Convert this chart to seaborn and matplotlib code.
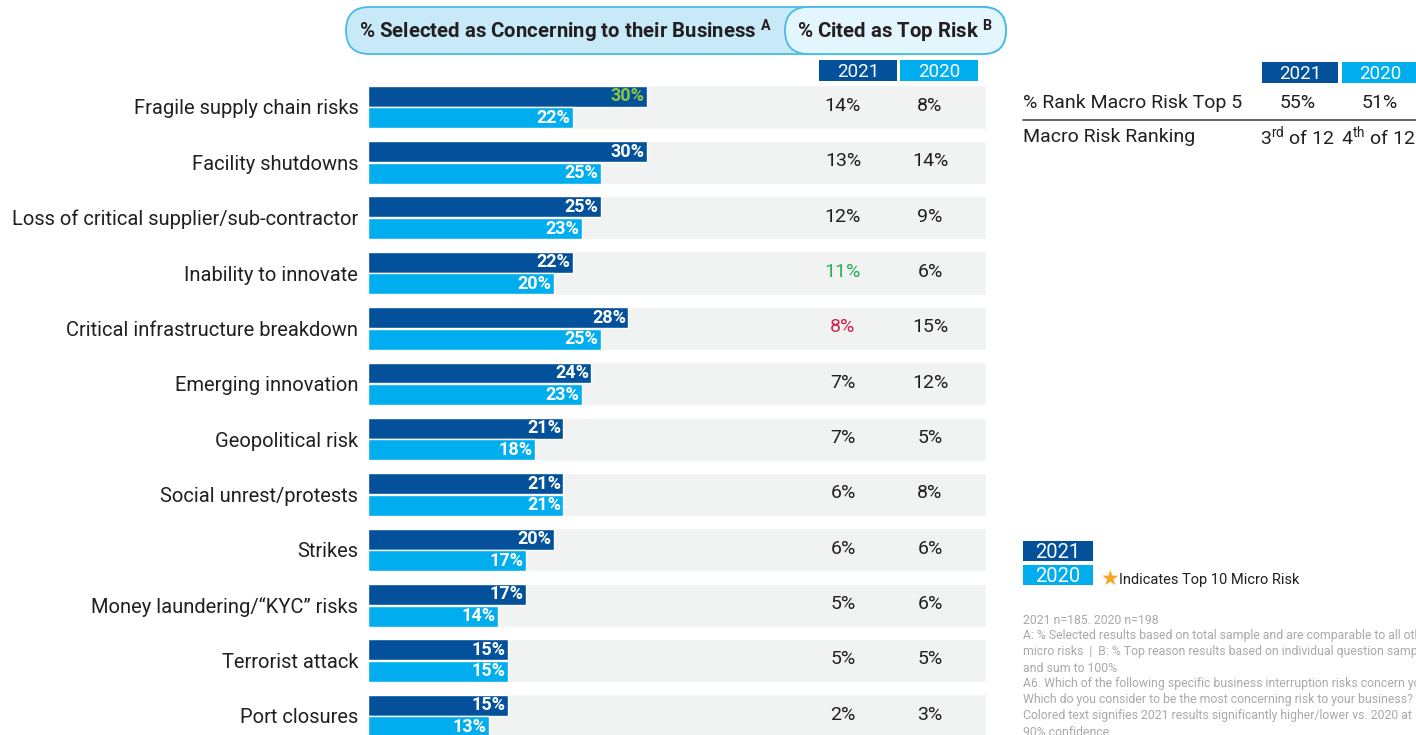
import matplotlib
matplotlib.use("Agg")
import matplotlib.pyplot as plt
from matplotlib.patches import FancyBboxPatch, Rectangle
import seaborn as sns
import pandas as pd
import numpy as np

risks = [
    "Fragile supply chain risks",
    "Facility shutdowns",
    "Loss of critical supplier/sub-contractor",
    "Inability to innovate",
    "Critical infrastructure breakdown",
    "Emerging innovation",
    "Geopolitical risk",
    "Social unrest/protests",
    "Strikes",
    "Money laundering/\u201cKYC\u201d risks",
    "Terrorist attack",
    "Port closures",
]
selected_2021 = [30, 30, 25, 22, 28, 24, 21, 21, 20, 17, 15, 15]
selected_2020 = [22, 25, 23, 20, 25, 23, 18, 21, 17, 14, 15, 13]
top_2021 = [14, 13, 12, 11, 8, 7, 7, 6, 6, 5, 5, 2]
top_2020 = [8, 14, 9, 6, 15, 12, 5, 8, 6, 6, 5, 3]
years = ["2021", "2020"]

macro_rows = ["% Rank Macro Risk Top 5", "Macro Risk Ranking"]
macro_top5 = ["55%", "51%"]
macro_rank = [("3", "rd"), ("4", "th")]

footnotes = [
    "2021 n=185. 2020 n=198",
    "A: % Selected results based on total sample and are comparable to all other",
    "micro risks  |  B: % Top reason results based on individual question sample",
    "and sum to 100%",
    "A6. Which of the following specific business interruption risks concern you?",
    "Which do you consider to be the most concerning risk to your business?",
    "Colored text signifies 2021 results significantly higher/lower vs. 2020 at",
    "90% confidence",
]

DARK = "#02519a"
LIGHT = "#00aeef"
BAND = "#f1f2f2"
INK = "#231f20"
GREEN_HI = "#8dc63f"
GREEN = "#27b153"
RED = "#d2234f"

sns.set_theme(style="white")
plt.rcParams["font.family"] = ["Roboto", "DejaVu Sans"]
plt.rcParams["mathtext.fontset"] = "custom"
plt.rcParams["mathtext.rm"] = "Roboto"

W, H = 1416, 735
fig = plt.figure(figsize=(W / 100, H / 100), dpi=100)

# main bar axes: 9.3 px per percent, rows every 55.36 px
px_per_pct = 9.3
row_px = 55.36
ax_left, ax_right = 368, 986
top_px = 107 - 0.5 * row_px
bot_px = 107 + 11.5 * row_px
ax = fig.add_axes([ax_left / W, 1 - bot_px / H, (ax_right - ax_left) / W, (bot_px - top_px) / H])

df = pd.DataFrame({
    "risk": risks * 2,
    "value": selected_2021 + selected_2020,
    "year": [years[0]] * len(risks) + [years[1]] * len(risks),
})
sns.barplot(data=df, x="value", y="risk", hue="year", hue_order=years,
            palette=[DARK, LIGHT], saturation=1, orient="h", width=0.78, gap=0.03,
            legend=False, ax=ax, zorder=2)
bar_groups = list(ax.containers)
xmax = (ax_right - ax_left) / px_per_pct
ax.barh(np.arange(len(risks)), xmax, height=0.78, color=BAND, zorder=0.5)
ax.set_xlim(0, xmax)
ax.set_ylim(len(risks) - 0.5, -0.5)
ax.set_xlabel("")
ax.set_ylabel("")
ax.set_xticks([])
ax.tick_params(axis="y", length=0, pad=7, labelsize=14.5, labelcolor=INK)
for s in ax.spines.values():
    s.set_visible(False)
ax.patch.set_alpha(0)

label_colors = {(0, 0): GREEN_HI}
for h, cont in enumerate(bar_groups):
    for i, bar in enumerate(cont):
        ax.text(bar.get_width() - 0.25, bar.get_y() + bar.get_height() / 2,
                f"{int(round(bar.get_width()))}%", ha="right", va="center",
                color=label_colors.get((h, i), "white"), fontsize=13,
                fontweight="bold", zorder=3)

top_colors = {3: GREEN, 4: RED}
x21 = (843 - ax_left) / px_per_pct
x20 = (930 - ax_left) / px_per_pct
for i in range(len(risks)):
    ax.text(x21, i - 0.02, f"{top_2021[i]}%", ha="center", va="center",
            fontsize=14, color=top_colors.get(i, INK))
    ax.text(x20, i - 0.02, f"{top_2020[i]}%", ha="center", va="center",
            fontsize=14, color=INK)

# overlay axes in pixel units for headers, side table and notes
deco = fig.add_axes([0, 0, 1, 1])
deco.set_xlim(0, W)
deco.set_ylim(H, 0)
deco.axis("off")
deco.patch.set_alpha(0)

deco.add_patch(FancyBboxPatch((346, 7), 660, 47,
                              boxstyle="round,pad=0,rounding_size=23.5",
                              fc="#c7e9f8", ec="#47bce9", lw=1.3))
deco.add_patch(FancyBboxPatch((785, 7), 221, 47,
                              boxstyle="round,pad=0,rounding_size=23.5",
                              fc="#e3f5fd", ec="#47bce9", lw=1.3))
deco.text(566, 31, r"% Selected as Concerning to their Business $^{\mathregular{A}}$",
          ha="center", va="center", fontsize=14.7, fontweight="bold", color=INK)
deco.text(895, 31, r"% Cited as Top Risk $^{\mathregular{B}}$",
          ha="center", va="center", fontsize=14.7, fontweight="bold", color=INK)


def year_box(x0, y0, w, h, color, label, size=13.5):
    deco.add_patch(Rectangle((x0, y0), w, h, fc=color, ec="none"))
    deco.text(x0 + w / 2, y0 + h / 2 + 1, label, ha="center", va="center",
              color="white", fontsize=size)


year_box(819, 60, 78, 21, DARK, years[0])
year_box(900, 60, 78, 21, LIGHT, years[1])

# right table
year_box(1262, 62, 76, 21, DARK, years[0])
year_box(1342, 62, 76, 21, LIGHT, years[1])
deco.text(1023, 103, macro_rows[0], ha="left", va="center", fontsize=14, color=INK)
deco.text(1298, 103, macro_top5[0], ha="center", va="center", fontsize=14, color=INK)
deco.text(1380, 103, macro_top5[1], ha="center", va="center", fontsize=14, color=INK)
deco.plot([1023, W], [120, 120], color="#555555", lw=1.3)
deco.text(1023, 137, macro_rows[1], ha="left", va="center", fontsize=14, color=INK)
for xc, (num, suf) in zip([1297, 1378], macro_rank):
    deco.text(xc, 137, num + r"$^{\mathregular{" + suf + r"}}$ of 12",
              ha="center", va="center", fontsize=14, color=INK)

# legend
year_box(1023, 541, 70, 20, DARK, years[0], 14.5)
year_box(1023, 565, 70, 20, LIGHT, years[1], 14.5)
deco.text(1101, 579, "\u2605", ha="left", va="center", fontsize=15,
          color="#f6a623", family="DejaVu Sans")
deco.text(1119, 580, "Indicates Top 10 Micro Risk", ha="left", va="center",
          fontsize=10.5, color=INK)

for k, line in enumerate(footnotes):
    deco.text(1023, 620 + 16 * k, line, ha="left", va="center",
              fontsize=8.8, color="#a9a9a9")

fig.savefig("out.png", dpi=100)
